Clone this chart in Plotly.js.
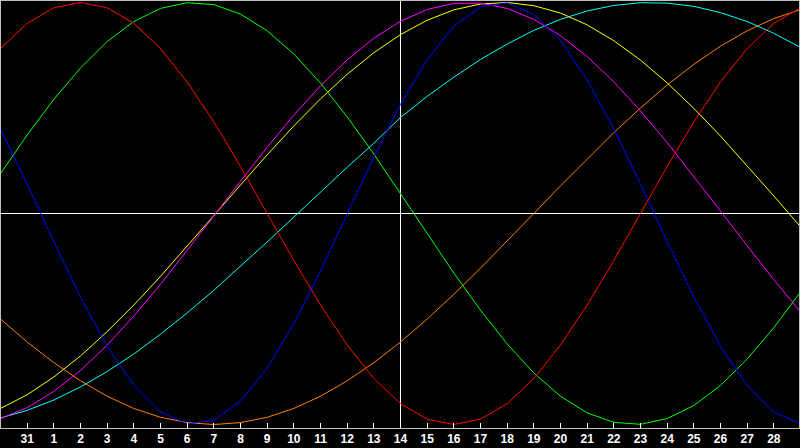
<!DOCTYPE html>
<html>
<head>
<meta charset="utf-8">
<script src="https://cdn.plot.ly/plotly-3.0.1.min.js"></script>
<style>
  html, body { margin: 0; padding: 0; background: #000; }
  #chart { width: 800px; height: 448px; }
</style>
</head>
<body>
<div id="chart"></div>
<script>
// Day categories (30th of previous month through 29th)
const days = ["30","31","1","2","3","4","5","6","7","8","9","10","11","12","13","14",
              "15","16","17","18","19","20","21","22","23","24","25","26","27","28","29"];

// Cycle values (-100 .. 100)
const red     = [78.2,90.1,97.5,100,97.5,90.1,78.2,62.3,43.4,22.3,0,-22.3,-43.4,-62.3,-78.2,-90.1,-97.5,-100,-97.5,-90.1,-78.2,-62.3,-43.4,-22.3,0,22.3,43.4,62.3,78.2,90.1,97.5];
const green   = [18.9,37.2,54.1,69.0,81.5,91.0,97.2,99.9,99.0,94.5,86.6,75.6,61.8,45.8,28.2,9.5,-9.5,-28.2,-45.8,-61.8,-75.6,-86.6,-94.5,-99.0,-99.9,-97.2,-91.0,-81.5,-69.0,-54.1,-37.2];
const blue    = [40.1,13.9,-13.3,-39.6,-62.9,-81.5,-94.1,-99.7,-98.0,-88.9,-73.3,-52.2,-27.2,-0.3,26.7,51.7,72.9,88.7,97.9,99.8,94.3,81.9,63.3,40.1,13.9,-13.3,-39.6,-62.9,-81.5,-94.1,-99.7];
const magenta = [-97.2,-92.0,-84.3,-74.4,-62.4,-48.6,-33.6,-17.6,-1.2,15.3,31.4,46.6,60.5,72.8,83.1,91.1,96.7,99.6,99.7,97.2,92.0,84.3,74.4,62.4,48.6,33.6,17.6,1.2,-15.3,-31.4,-46.6];
const yellow  = [-92.4,-85.9,-77.5,-67.5,-56.0,-43.4,-29.8,-15.6,-1.0,13.5,27.8,41.5,54.3,66.0,76.2,84.8,91.6,96.5,99.3,100.0,98.5,95.0,89.4,81.9,72.7,61.9,49.8,36.7,22.7,8.3,-6.3];
const orange  = [-50.0,-60.9,-70.7,-79.3,-86.6,-92.4,-96.6,-99.1,-100,-99.1,-96.6,-92.4,-86.6,-79.3,-70.7,-60.9,-50.0,-38.3,-25.9,-13.1,0,13.1,25.9,38.3,50.0,60.9,70.7,79.3,86.6,92.4,96.6];
const cyan    = [-96.9,-93.3,-88.4,-82.2,-74.9,-66.6,-57.2,-47.1,-36.4,-25.1,-13.5,-1.7,10.2,21.9,33.3,45.5,55.5,64.6,73.0,80.3,86.8,92.0,96.0,98.6,99.9,99.7,98.2,95.2,91.0,85.4,78.7];

// Tick labels shown on the axis (31st .. 28th)
const tickLabels = ["31","1","2","3","4","5","6","7","8","9","10","11","12","13","14",
                    "15","16","17","18","19","20","21","22","23","24","25","26","27","28"];
const markerDay = "14";

const series = [
  {y: cyan,    color: "#00ffff"},
  {y: orange,  color: "#ff8000"},
  {y: yellow,  color: "#ffff00"},
  {y: magenta, color: "#ff00ff"},
  {y: green,   color: "#00ff00"},
  {y: red,     color: "#ff0000"},
  {y: blue,    color: "#0000ff"}
];

const traces = series.map(s => ({
  type: "scatter",
  mode: "lines",
  x: days,
  y: s.y,
  line: {color: s.color, width: 1},
  hoverinfo: "skip",
  showlegend: false
}));

const markerIndex = days.indexOf(markerDay);

const layout = {
  width: 800,
  height: 448,
  margin: {l: 1, r: 1, t: 1, b: 20, pad: 0},
  paper_bgcolor: "#000000",
  plot_bgcolor: "#000000",
  showlegend: false,
  xaxis: {
    type: "category",
    categoryorder: "array",
    categoryarray: days,
    range: [0.019, 29.944],
    tickmode: "array",
    tickvals: tickLabels,
    ticktext: tickLabels,
    ticks: "inside",
    ticklen: 5,
    tickwidth: 1,
    tickcolor: "#ffffff",
    tickfont: {family: "Liberation Sans, Arial, sans-serif", size: 12, color: "#ffffff", weight: "bold"},
    showgrid: false,
    zeroline: false,
    showline: true,
    mirror: true,
    linecolor: "#c0c0c0",
    linewidth: 1,
    fixedrange: true
  },
  yaxis: {
    range: [-101.66, 100.71],
    showticklabels: false,
    ticks: "",
    showgrid: false,
    zeroline: true,
    zerolinecolor: "#ffffff",
    zerolinewidth: 1,
    showline: true,
    mirror: true,
    linecolor: "#c0c0c0",
    linewidth: 1,
    fixedrange: true
  },
  shapes: [{
    type: "line",
    xref: "x", yref: "paper",
    x0: markerIndex, x1: markerIndex, y0: 0, y1: 1,
    line: {color: "#ffffff", width: 1},
    layer: "below"
  }]
};

Plotly.newPlot("chart", traces, layout, {displayModeBar: false, staticPlot: true});
</script>
</body>
</html>
